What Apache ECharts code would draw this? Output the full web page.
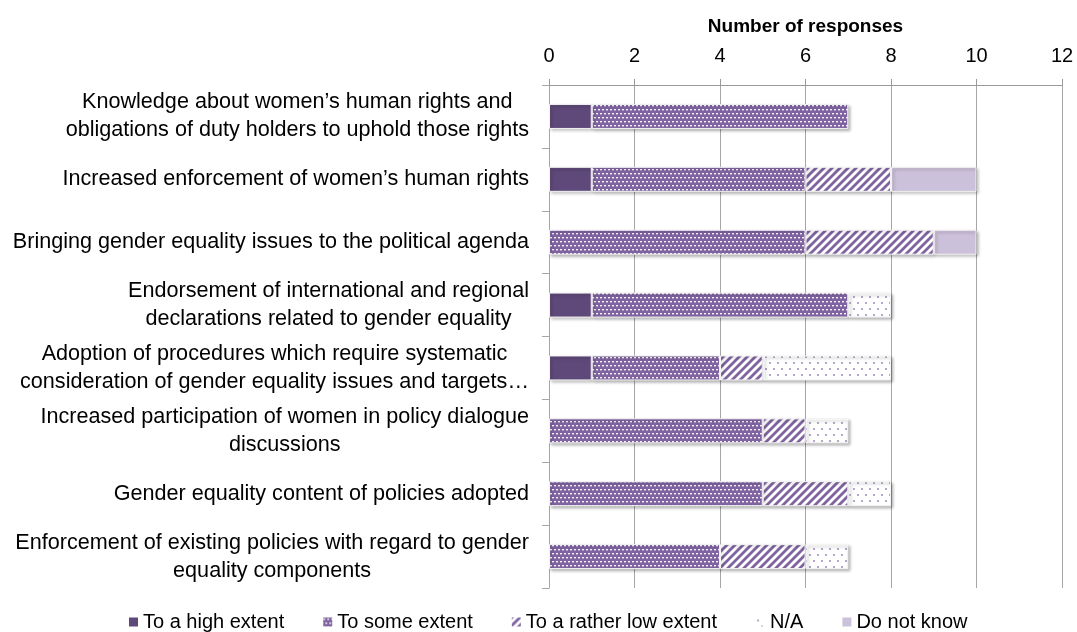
<!DOCTYPE html>
<html>
<head>
<meta charset="utf-8">
<script src="https://cdn.jsdelivr.net/npm/echarts@6/dist/echarts.min.js"></script>
<style>html,body{margin:0;padding:0;background:#fff}#c{width:1077px;height:632px}</style>
</head>
<body>
<div id="c"></div>
<script>
// ---- data ----
const categories = [
  "Knowledge about women’s human rights and\nobligations of duty holders to uphold those rights",
  "Increased enforcement of women’s human rights",
  "Bringing gender equality issues to the political agenda",
  "Endorsement of international and regional\ndeclarations related to gender equality",
  "Adoption of procedures which require systematic\nconsideration of gender equality issues and targets…",
  "Increased participation of women in policy dialogue\ndiscussions",
  "Gender equality content of policies adopted",
  "Enforcement of existing policies with regard to gender\nequality components"
];
const seriesNames = ["To a high extent", "To some extent", "To a rather low extent", "N/A", "Do not know"];
const highExtent = [1, 1, 0, 1, 1, 0, 0, 0];
const someExtent = [6, 5, 6, 6, 3, 5, 5, 4];
const lowExtent  = [0, 2, 3, 0, 1, 1, 2, 2];
const notApplicable = [0, 0, 0, 1, 3, 1, 1, 1];
const doNotKnow  = [0, 2, 1, 0, 0, 0, 0, 0];
const xTicks = [0, 2, 4, 6, 8, 10, 12];

// ---- patterns ----
function makeTile(w, h, draw) {
  const c = document.createElement('canvas');
  c.width = w; c.height = h;
  draw(c.getContext('2d'), w, h);
  return { image: c, repeat: 'repeat' };
}
const PURPLE = '#8064a2';
const fillHigh = '#5f497a';
const fillSome = makeTile(4, 8, (ctx, w, h) => {
  ctx.fillStyle = PURPLE; ctx.fillRect(0, 0, w, h);
  ctx.fillStyle = 'rgba(255,255,255,0.95)';
  ctx.fillRect(0, 1, 2, 1);
  ctx.fillRect(2, 5, 2, 1);
  ctx.fillStyle = 'rgba(255,255,255,0.35)';
  ctx.fillRect(0, 2, 2, 1);
  ctx.fillRect(2, 6, 2, 1);
});
const fillLow = makeTile(8, 8, (ctx, w, h) => {
  ctx.fillStyle = '#fff'; ctx.fillRect(0, 0, w, h);
  ctx.strokeStyle = PURPLE; ctx.lineWidth = 2.8;
  ctx.beginPath();
  ctx.moveTo(-4, 4); ctx.lineTo(4, -4);
  ctx.moveTo(0, 8); ctx.lineTo(8, 0);
  ctx.moveTo(4, 12); ctx.lineTo(12, 4);
  ctx.stroke();
});
const fillNA = makeTile(8, 12, (ctx, w, h) => {
  ctx.fillStyle = '#fff'; ctx.fillRect(0, 0, w, h);
  ctx.fillStyle = 'rgba(128,100,162,0.85)';
  ctx.beginPath(); ctx.arc(2, 3, 0.9, 0, Math.PI * 2); ctx.fill();
  ctx.beginPath(); ctx.arc(6, 9, 0.9, 0, Math.PI * 2); ctx.fill();
});
const fillDK = '#ccc1da';
const fills = [fillHigh, fillSome, fillLow, fillNA, fillDK];
const values = [highExtent, someExtent, lowExtent, notApplicable, doNotKnow];

const FONT = '"Liberation Sans", Arial, Helvetica, sans-serif';

const series = seriesNames.map((name, i) => ({
  name: name,
  type: 'bar',
  stack: 'total',
  barWidth: 25,
  data: values[i].map(v => (v === 0 ? '-' : v)),
  itemStyle: {
    color: fills[i],
    borderColor: '#f4f4f4',
    borderWidth: 1,
    shadowColor: 'rgba(0,0,0,0.28)',
    shadowBlur: 3,
    shadowOffsetX: 2,
    shadowOffsetY: 2
  },
  emphasis: { disabled: true }
}));

const chart = echarts.init(document.getElementById('c'), null, { renderer: 'canvas' });
chart.setOption({
  animation: false,
  backgroundColor: '#fff',
  grid: { left: 549, right: 15, top: 85, bottom: 44, containLabel: false },
  xAxis: {
    type: 'value',
    position: 'top',
    min: xTicks[0],
    max: xTicks[xTicks.length - 1],
    interval: xTicks[1] - xTicks[0],
    name: 'Number of responses',
    nameLocation: 'middle',
    nameGap: 49,
    nameTextStyle: { fontFamily: FONT, fontSize: 19, fontWeight: 'bold', color: '#000' },
    axisLine: { show: true, lineStyle: { color: '#9a9a9a', width: 1 } },
    axisTick: { show: true, length: 6, inside: false, lineStyle: { color: '#9a9a9a' } },
    axisLabel: { fontFamily: FONT, fontSize: 20, color: '#000', margin: 19 },
    splitLine: { show: true, lineStyle: { color: '#a6a6a6', width: 1 } }
  },
  yAxis: {
    type: 'category',
    inverse: true,
    data: categories,
    axisLine: { show: true, lineStyle: { color: '#a6a6a6', width: 1 } },
    axisTick: { show: true, length: 7, lineStyle: { color: '#a6a6a6' } },
    axisLabel: {
      margin: 20,
      fontFamily: FONT,
      fontSize: 21.6,
      color: '#000',
      formatter: v => v.split('\n').map(l => '{c|' + l + '}').join('\n'),
      rich: { c: { align: 'center', fontFamily: FONT, fontSize: 21.6, color: '#000', lineHeight: 28 } }
    },
    splitLine: { show: false }
  },
  legend: {
    top: 607,
    left: 124,
    itemWidth: 9,
    itemHeight: 9,
    itemGap: 39,
    icon: 'rect',
    selectedMode: false,
    textStyle: { fontFamily: FONT, fontSize: 20, color: '#000' },
    itemStyle: { borderWidth: 0, shadowBlur: 0, shadowOffsetX: 0, shadowOffsetY: 0 },
    data: seriesNames
  },
  series: series
});
</script>
</body>
</html>
